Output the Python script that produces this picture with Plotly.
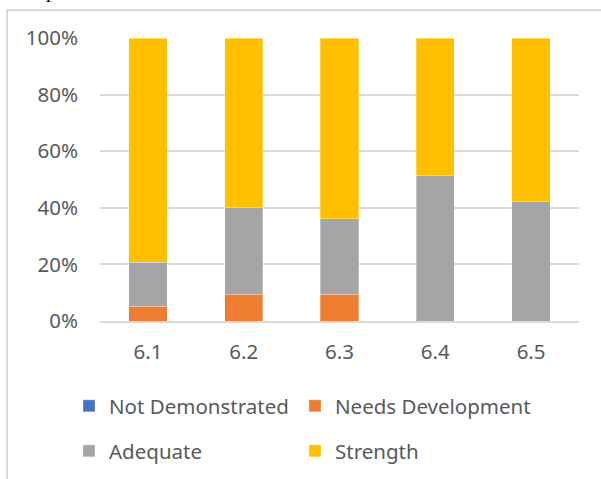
import plotly.graph_objects as go

categories = ["6.1", "6.2", "6.3", "6.4", "6.5"]
not_demonstrated = [0, 0, 0, 0, 0]
needs_development = [0.053, 0.095, 0.095, 0, 0]
adequate = [0.155, 0.307, 0.267, 0.515, 0.421]
strength = [0.792, 0.598, 0.638, 0.485, 0.579]

series_names = ["Not Demonstrated", "Needs Development", "Adequate", "Strength"]
series_values = [not_demonstrated, needs_development, adequate, strength]
colors = ["#4472C4", "#ED7D31", "#A5A5A5", "#FFC000"]
legend_ids = ["legend", "legend2", "legend3", "legend4"]

W, H = 601, 479
L, R, T, B = 100, 22, 38, 158
pw, ph = W - L - R, H - T - B

font_family = "Noto Sans, Open Sans, sans-serif"
txt = "#595959"
fs = 20.5

fig = go.Figure()
for name, vals, col, lg in zip(series_names, series_values, colors, legend_ids):
    fig.add_trace(go.Bar(
        x=categories, y=vals, name=name, marker_color=col,
        marker_line=dict(color="rgba(255,255,255,0.5)", width=0.6),
        width=0.4, legend=lg,
    ))

def px(x):
    return (x - L) / pw

def py(y):
    return (H - B - y) / ph

legend_common = dict(
    orientation="h", xref="container", yref="container",
    xanchor="left", yanchor="middle",
    font=dict(family=font_family, size=fs, color=txt),
    bgcolor="rgba(0,0,0,0)", itemclick=False,
)
legend_pos = [(69, 406), (295, 406), (69, 451), (295, 451)]
legend_layouts = {
    lg: dict(x=lx / W, y=1 - ly / H, **legend_common)
    for lg, (lx, ly) in zip(legend_ids, legend_pos)
}

fig.update_layout(
    width=W, height=H,
    margin=dict(l=L, r=R, t=T, b=B),
    barmode="stack",
    plot_bgcolor="white", paper_bgcolor="white",
    font=dict(family=font_family, size=fs, color=txt),
    xaxis=dict(showgrid=False, showline=True, linecolor="#D9D9D9", linewidth=1.5,
               ticks="", tickfont=dict(size=fs, color=txt), ticklabelstandoff=12,
               zeroline=False),
    yaxis=dict(range=[0, 1], tickvals=[0, 0.2, 0.4, 0.6, 0.8, 1.0],
               tickformat=".0%", showgrid=True, gridcolor="#D9D9D9", gridwidth=1.5,
               zeroline=False, showline=False, ticks="",
               tickfont=dict(size=fs, color=txt), ticklabelstandoff=21),
    showlegend=True,
    shapes=[dict(type="rect", xref="paper", yref="paper",
                 x0=px(7), x1=px(640), y0=py(520), y1=py(10),
                 line=dict(color="#D9D9D9", width=2), fillcolor="rgba(0,0,0,0)",
                 layer="below")],
    annotations=[dict(text="p", xref="paper", yref="paper", x=px(51), y=py(4),
                      xanchor="center", yanchor="bottom", showarrow=False,
                      font=dict(family="Liberation Serif", size=20, color="black"))],
    **legend_layouts,
)

fig.write_html("out.html")
